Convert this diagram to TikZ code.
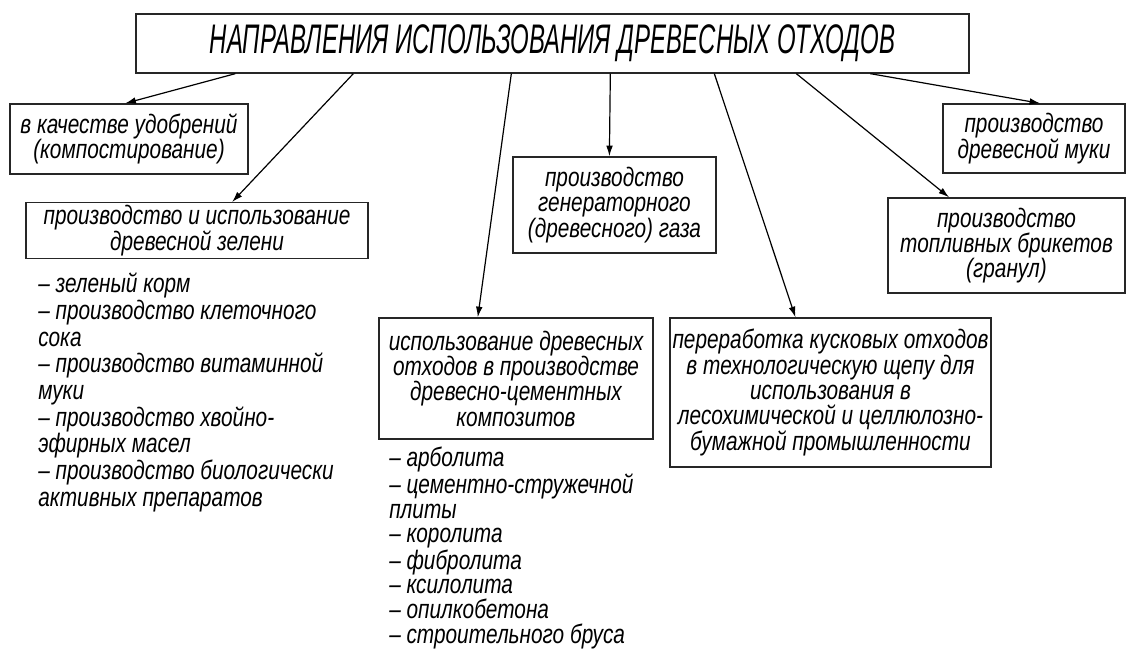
\documentclass[tikz,border=0pt]{standalone}
\usepackage{fontspec}
\setmainfont{Liberation Sans}[FakeStretch=0.78]
\newfontfamily\headfont{Liberation Sans}[FakeStretch=0.58]
\usetikzlibrary{arrows.meta,calc}

\begin{document}
\begin{tikzpicture}[x=0.75pt,y=-0.75pt,
    box/.style={draw=black!85, line width=1pt, align=center, inner sep=2pt,
      font=\itshape\fontsize{20}{19}\selectfont},
    lst/.style={anchor=north west, align=left, inner sep=0pt,
      font=\itshape\fontsize{20}{20}\selectfont},
    arr/.style={-{Latex[length=8pt,width=5pt]}, line width=0.9pt}]
    \useasboundingbox (0,0) rectangle (1127,655);
    \node[box, minimum width=624.75pt, minimum height=44.25pt,
      font=\headfont\itshape\fontsize{31}{31}\selectfont] (title) at (552.5,43.5)
      {НАПРАВЛЕНИЯ ИСПОЛЬЗОВАНИЯ ДРЕВЕСНЫХ ОТХОДОВ};
    \node[box, minimum width=178.5pt, minimum height=52.5pt] (b1) at (129,139)
      {в качестве удобрений\\(компостирование)};
    \node[box, minimum width=256.5pt, minimum height=41.25pt] (b2) at (197,230.5)
      {производство и использование\\древесной зелени};
    \node[box, minimum width=152.25pt, minimum height=72pt] (b3) at (614.5,205)
      {производство\\генераторного\\(древесного) газа};
    \node[box, minimum width=205.5pt, minimum height=90.75pt] (b4) at (516,378.5)
      {использование древесных\\отходов в производстве\\древесно-цементных\\композитов};
    \node[box, minimum width=237.75pt, minimum height=111.75pt] (b5) at (830.5,392.5)
      {переработка кусковых отходов\\в технологическую щепу для\\использования в\\лесохимической и целлюлозно-\\бумажной промышленности};
    \node[box, minimum width=136.5pt, minimum height=51.75pt] (b6) at (1034,138.5)
      {производство\\древесной муки};
    \node[box, minimum width=177.75pt, minimum height=71.25pt] (b7) at (1006.5,245.5)
      {производство\\топливных брикетов\\(гранул)};
    % lists under the boxes
    \node[lst] (l1) at (38,273)
      {– зеленый корм\\– производство клеточного\\сока\\– производство витаминной\\муки\\– производство хвойно-\\эфирных масел\\– производство биологически\\активных препаратов};
    \node[lst, font=\itshape\fontsize{20}{18.5}\selectfont] (l2) at (389,447)
      {– арболита\\– цементно-стружечной\\плиты\\– королита\\– фибролита\\– ксилолита\\– опилкобетона\\– строительного бруса};
    % arrows
    \draw[arr] ($(title.south west)+(100,0)$) -- (b1.96.5);
    \draw[arr] ($(title.south west)+(218,0)$) -- (b2.39.8);
    \draw[arr] ($(title.south west)+(376,0)$) -- (b4.122);
    \draw[arr] ($(title.south west)+(475,0)$) -- (b3.96.5);
    \draw[arr] ($(title.south west)+(579,0)$) -- (b5.115.5);
    \draw[arr] ($(title.south west)+(661,0)$) -- (b7.140);
    \draw[arr] ($(title.south west)+(735,0)$) -- (b6.80);
\end{tikzpicture}
\end{document}
